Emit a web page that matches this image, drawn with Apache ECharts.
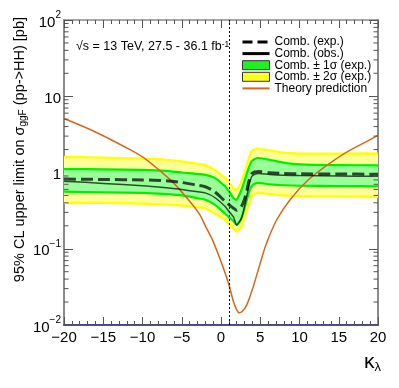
<!DOCTYPE html>
<html><head><meta charset="utf-8">
<script src="https://cdn.jsdelivr.net/npm/echarts@6/dist/echarts.min.js"></script>
<style>html,body{margin:0;padding:0;background:#fff}#c{width:399px;height:388px}</style>
</head><body><div id="c"></div>
<script>
// ---------------- data ----------------
const kappa      = [-20, -15, -10, -7, -5, -3, -2, -0.8, 0.5, 1.0, 1.6, 2.0, 2.6, 3.0, 3.3, 3.6, 3.9, 4.3, 4.8, 6.2, 8, 10, 15, 20];
const expLimit   = [0.82, 0.81, 0.80, 0.78, 0.74, 0.68, 0.65, 0.56, 0.42, 0.38, 0.34, 0.32, 0.36, 0.45, 0.59, 0.80, 0.96, 1.02, 1.03, 0.99, 0.97, 0.96, 0.955, 0.95];
const obsLimit   = [0.77, 0.72, 0.67, 0.63, 0.60, 0.56, 0.54, 0.47, 0.36, 0.31, 0.26, 0.205, 0.25, 0.36, 0.50, 0.70, 0.88, 0.95, 0.97, 0.94, 0.92, 0.91, 0.90, 0.89];
const sigma1Up   = [1.11, 1.10, 1.08, 1.05, 1.00, 0.96, 0.93, 0.85, 0.66, 0.57, 0.46, 0.44, 0.59, 0.78, 0.98, 1.20, 1.40, 1.50, 1.55, 1.47, 1.35, 1.28, 1.25, 1.24];
const sigma1Down = [0.56, 0.55, 0.54, 0.52, 0.50, 0.46, 0.44, 0.38, 0.29, 0.26, 0.23, 0.205, 0.25, 0.34, 0.44, 0.56, 0.66, 0.71, 0.73, 0.70, 0.68, 0.67, 0.665, 0.66];
const sigma2Up   = [1.60, 1.57, 1.52, 1.47, 1.40, 1.30, 1.25, 1.08, 0.85, 0.74, 0.62, 0.59, 0.76, 1.00, 1.27, 1.60, 1.90, 2.02, 2.05, 1.95, 1.82, 1.77, 1.77, 1.77];
const sigma2Down = [0.40, 0.40, 0.39, 0.38, 0.37, 0.35, 0.34, 0.29, 0.24, 0.21, 0.186, 0.168, 0.195, 0.26, 0.32, 0.40, 0.48, 0.52, 0.54, 0.52, 0.50, 0.49, 0.485, 0.48];
const theoryKappa = [-20, -16, -12, -10, -8, -6, -4, -2.7, -2, -1.4, -1, 0, 1, 1.6, 2.0, 2.3, 2.7, 3.3, 4.1, 5, 5.8, 7.1, 8.8, 11, 13.9, 16, 19, 20];
const theoryXsec  = [5.1, 3.4, 2.1, 1.6, 1.1, 0.72, 0.42, 0.28, 0.20, 0.152, 0.125, 0.068, 0.034, 0.020, 0.0158, 0.0145, 0.0150, 0.0185, 0.0316, 0.065, 0.118, 0.24, 0.44, 0.78, 1.33, 1.85, 2.7, 3.1];
const smKappa = [1];
const yTickValues = [0.01, 0.1, 1, 10, 100];
const yTickBase   = ['10', '10', '1', '10', '10'];
const yTickExp    = ['\u22122', '\u22121', '', '', '2'];
const yMinorTicks = [0.02,0.03,0.04,0.05,0.06,0.07,0.08,0.09, 0.2,0.3,0.4,0.5,0.6,0.7,0.8,0.9, 2,3,4,5,6,7,8,9, 20,30,40,50,60,70,80,90];
const legendNames = ['Comb. (exp.)', 'Comb. (obs.)', 'Comb. \u00b1 1\u03c3 (exp.)', 'Comb. \u00b1 2\u03c3 (exp.)', 'Theory prediction'];

// ---------------- chart ----------------
const FONT = '"Liberation Sans", Arial, Helvetica, sans-serif';
const chart = echarts.init(document.getElementById('c'), null, {renderer: 'canvas'});

function bandRender(up, dn, fill, edge) {
  return function (params, api) {
    const top = kappa.map((k, i) => api.coord([k, up[i]]));
    const bot = kappa.map((k, i) => api.coord([k, dn[i]]));
    const poly = top.concat(bot.slice().reverse());
    return {type: 'group', children: [
      {type: 'polygon', shape: {points: poly, smooth: 0.2}, style: {fill: fill, stroke: null}},
      {type: 'polyline', shape: {points: top, smooth: 0.2}, style: {stroke: edge, lineWidth: 2.2, fill: null}},
      {type: 'polyline', shape: {points: bot, smooth: 0.2}, style: {stroke: edge, lineWidth: 2.2, fill: null}}
    ]};
  };
}

const axisGray = '#8a8a8a';
const tickCol = '#555';

const option = {
  animation: false,
  backgroundColor: '#fff',
  grid: {left: 64, right: 21, top: 20, bottom: 63},
  xAxis: [{
    type: 'value', min: -20, max: 20, interval: 5, position: 'bottom',
    axisLine: {onZero: false, lineStyle: {color: '#4d4d80', width: 2}},
    axisTick: {inside: true, length: 8, lineStyle: {color: tickCol}},
    minorTick: {show: true, splitNumber: 5, length: 4, lineStyle: {color: tickCol}},
    axisLabel: {margin: 5, fontSize: 15, color: '#000', fontFamily: FONT,
      formatter: v => String(v).replace('-', '\u2212')},
    splitLine: {show: false}
  }, {
    type: 'value', min: -20, max: 20, interval: 5, position: 'top',
    axisLine: {onZero: false, lineStyle: {color: axisGray, width: 1.5}},
    axisTick: {inside: true, length: 8, lineStyle: {color: tickCol}},
    minorTick: {show: true, splitNumber: 5, length: 4, lineStyle: {color: tickCol}},
    axisLabel: {show: false}, splitLine: {show: false}
  }],
  yAxis: [{
    type: 'log', logBase: 10, min: 0.01, max: 100, position: 'left',
    axisLine: {onZero: false, lineStyle: {color: axisGray, width: 2}},
    axisTick: {inside: true, length: 9, lineStyle: {color: tickCol}},
    axisLabel: {margin: 3, color: '#000', fontFamily: FONT,
      formatter: v => {
        let i = yTickValues.findIndex(t => Math.abs(Math.log10(t) - Math.log10(v)) < 1e-6);
        if (i < 0) return '';
        return '{b|' + yTickBase[i] + '}' + (yTickExp[i] ? '{s|' + yTickExp[i] + '}' : '');
      },
      rich: {
        b: {fontSize: 15, lineHeight: 20, fontFamily: FONT, color: '#000', verticalAlign: 'bottom'},
        s: {fontSize: 10, lineHeight: 11, fontFamily: FONT, color: '#000', verticalAlign: 'top'}
      }
    },
    splitLine: {show: false}
  }, {
    type: 'log', logBase: 10, min: 0.01, max: 100, position: 'right',
    axisLine: {onZero: false, lineStyle: {color: axisGray, width: 2}},
    axisTick: {inside: true, length: 9, lineStyle: {color: tickCol}},
    axisLabel: {show: false}, splitLine: {show: false}
  }],
  legend: {
    orient: 'vertical', left: 241, top: 36, padding: 0,
    itemWidth: 27, itemHeight: 9, itemGap: -0.4,
    textStyle: {fontSize: 12, fontFamily: FONT, color: '#000'},
    data: [
      {name: legendNames[0], itemStyle: {opacity: 0}, lineStyle: {color: '#000', width: 3, type: [10, 5]}},
      {name: legendNames[1], itemStyle: {opacity: 0}, lineStyle: {color: '#000', width: 3}},
      {name: legendNames[2], icon: 'rect', itemStyle: {color: '#22ee22', borderColor: '#333', borderWidth: 1}},
      {name: legendNames[3], icon: 'rect', itemStyle: {color: '#ffff22', borderColor: '#333', borderWidth: 1}},
      {name: legendNames[4], itemStyle: {opacity: 0}, lineStyle: {color: '#d2691e', width: 2}}
    ]
  },
  series: [
    {
      name: legendNames[3], type: 'custom', clip: true, z: 1,
      itemStyle: {color: '#ffff22'},
      renderItem: bandRender(sigma2Up, sigma2Down, '#ffff99', '#ffff00'),
      data: [[0, 1]]
    },
    {
      name: legendNames[2], type: 'custom', clip: true, z: 2,
      itemStyle: {color: '#22ee22'},
      renderItem: bandRender(sigma1Up, sigma1Down, '#99ff99', '#00ee00'),
      data: [[0, 1]]
    },
    {
      name: legendNames[4], type: 'line', z: 3, showSymbol: false, symbol: 'none', smooth: 0.35,
      color: '#d2691e',
      lineStyle: {color: '#d2691e', width: 1.5},
      data: theoryKappa.map((k, i) => [k, theoryXsec[i]])
    },
    {
      name: legendNames[1], type: 'line', z: 4, showSymbol: false, symbol: 'none', smooth: 0.25,
      color: '#000',
      lineStyle: {color: 'rgba(0,0,0,0.7)', width: 1.5},
      data: kappa.map((k, i) => [k, obsLimit[i]])
    },
    {
      name: legendNames[0], type: 'line', z: 5, showSymbol: false, symbol: 'none', smooth: 0.25,
      color: '#000',
      lineStyle: {color: 'rgba(0,0,0,0.72)', width: 3, type: [12, 5]},
      data: kappa.map((k, i) => [k, expLimit[i]]),
      markLine: {
        silent: true, symbol: ['none', 'none'], label: {show: false},
        lineStyle: {color: '#000', width: 1, type: [2, 2]},
        data: smKappa.map(k => ({xAxis: k}))
      }
    },
    {
      name: 'minorTicks', type: 'custom', z: 6, silent: true,
      renderItem: function (params, api) {
        const v = api.value(1);
        const pl = api.coord([-20, v]);
        const pr = api.coord([20, v]);
        return {type: 'group', children: [
          {type: 'line', shape: {x1: pl[0], y1: pl[1], x2: pl[0] + 4.5, y2: pl[1]}, style: {stroke: tickCol, lineWidth: 1}},
          {type: 'line', shape: {x1: pr[0], y1: pr[1], x2: pr[0] - 4.5, y2: pr[1]}, style: {stroke: tickCol, lineWidth: 1}}
        ]};
      },
      data: yMinorTicks.map(v => [-20, v])
    }
  ],
  graphic: [
    {
      type: 'text', x: 20, y: 17, rotation: Math.PI / 2,
      style: {
        text: '{t|95% CL upper limit on \u03c3}{u|ggF}{t| (pp->HH) [pb]}',
        align: 'right', verticalAlign: 'middle', fill: '#000',
        rich: {
          t: {fontSize: 14.5, lineHeight: 17, fontFamily: FONT, fill: '#000'},
          u: {fontSize: 10, lineHeight: 10, fontFamily: FONT, fill: '#000', verticalAlign: 'bottom'}
        }
      }
    },
    {
      type: 'text', x: 381, y: 362,
      style: {
        text: '{k|\u03ba}{l|\u03bb}', align: 'right', verticalAlign: 'middle', fill: '#000',
        rich: {
          k: {fontSize: 21, lineHeight: 24, fontFamily: FONT, fill: '#000'},
          l: {fontSize: 13, lineHeight: 13, fontFamily: FONT, fill: '#000', verticalAlign: 'bottom'}
        }
      }
    },
    {
      type: 'text', x: 76, y: 47,
      style: {
        text: '{t|\u221as = 13 TeV, 27.5 - 36.1 fb}{s|-1}', align: 'left', verticalAlign: 'middle', fill: '#000',
        rich: {
          t: {fontSize: 12.5, lineHeight: 14, fontFamily: FONT, fill: '#000'},
          s: {fontSize: 8.5, lineHeight: 8, fontFamily: FONT, fill: '#000', verticalAlign: 'top'}
        }
      }
    }
  ]
};
chart.setOption(option);
</script>
</body></html>
